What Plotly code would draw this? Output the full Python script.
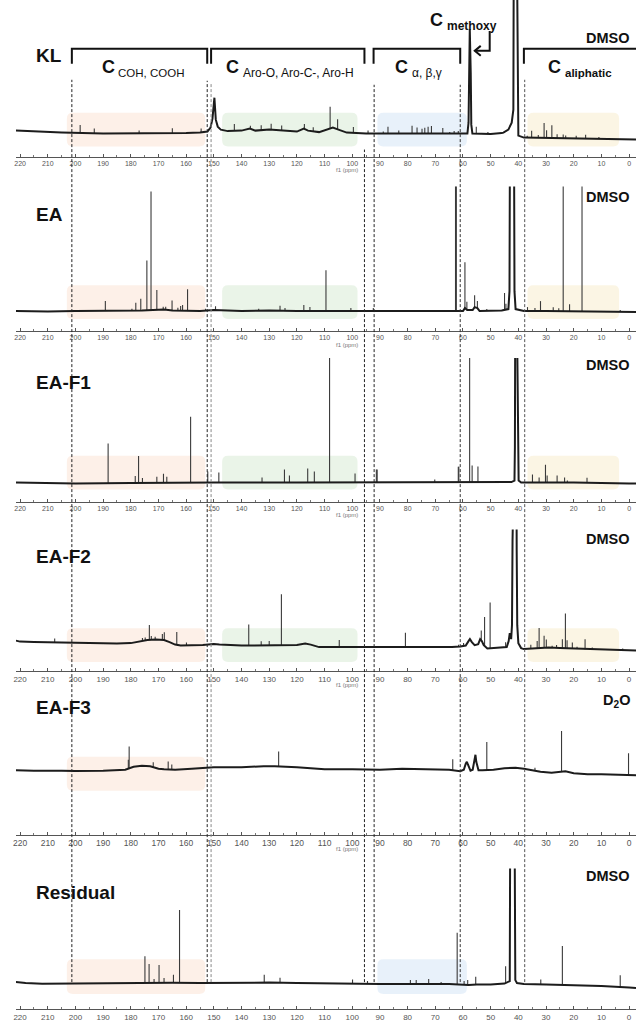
import numpy as np
import plotly.graph_objects as go

W, H = 636, 1022

# ---------------------------------------------------------------- data
# Each spectrum: a continuous outline (ppm, level) plus narrow lines (ppm, height above outline)

KL_line_ppm = [221.5, 215, 205, 190, 175, 160, 155, 152.3, 151.2, 150.5, 149.8, 149.3, 148.6, 147.5, 145, 140, 137, 135,
               130, 125, 120, 117.5, 116, 112, 109, 107, 105, 102, 95, 85, 75, 70, 62, 58.4, 58.0, 57.8, 57.55, 57.2,
               57.0, 56.6, 50, 46, 45.4, 43.6, 42.4, 41.8, 41.6, 40.7, 40.3, 40.0, 38, 30, 20, 10, 0, -2.5]
KL_line_lvl = [2, 1, 0, -1, -1, -0.5, 0, 1, 5, 14, 35, 13, 6, 3, 1.5, 2, 4, 2,
               3, 2, 1, 4, 2, 0.5, 3, 5, 3, 0, -1, -1, -1, -1.5, -1.5, -1, 10, 60, 104, 60,
               8, -1, -1.5, -0.5, 0, 3, 10, 23, 250, 250, 20, -3, -5, -5.5, -6, -6.5, -7, -7]
KL_stick_ppm = [198.3, 193.2, 177.0, 165.0, 154.6, 142.6, 136.8, 132.9, 129.3, 125.5, 117.3, 114.1, 108.0, 105.3,
                99.6, 94.3, 88.8, 87.1, 83.2, 78.4, 76.6, 74.8, 73.8, 72.6, 71.4, 67.3, 64.8, 63.2, 61.7, 55.2,
                51.0, 36.8, 35.2, 32.8, 30.7, 29.8, 27.9, 26.0, 23.8, 22.9, 19.1, 15.7, 10.9]
KL_stick_h = [8, 5, 3, 5, 4, 7, 3, 5, 6, 5, 5, 4, 22, 10,
              6, 3, 2, 7, 3, 8, 6, 5, 6, 7, 8, 6, 2, 3, 3, 7,
              2, 2, 7, 3, 15, 8, 13, 4, 4, 3, 3, 4, 2]

EA_line_ppm = [221.5, 210, 200, 185, 176, 172, 168, 165, 160, 155, 150, 140, 130, 120, 100, 90, 70, 60, 59.3,
               58.5, 56.5, 55.8, 54.8, 54.0, 46, 43.6, 43.2, 42.9, 41.7, 41.4, 41.0, 38, 30, 10, 0, -2.5]
EA_line_lvl = [0, -0.5, 0, 0, 0.5, 1, 1.5, 0.5, 0, 0, 1, 0, 0.5, 0, 0, 0, 0, 0, 3,
               1, 1, 4, 3, 0, 0.5, 2, 20, 300, 300, 20, 2, 0, 0, -0.5, -1, -1]
EA_stick_ppm = [189.2, 179.6, 178.2, 176.4, 174.2, 172.7, 170.6, 168.3, 167.4, 165.1, 163.0, 162.0, 161.3, 159.5,
                153.0, 149.4, 133.8, 126.1, 124.3, 117.5, 115.3, 109.5, 100.5, 92.4, 62.7, 62.4, 59.3, 58.6,
                55.8, 54.8, 51.4, 45.0, 44.5, 36.7, 34.0, 32.0, 27.4, 25.4, 23.8, 21.5, 17.0, 3.2]
EA_stick_h = [10, 2, 8, 12, 50, 119, 20, 3, 3, 10, 3, 5, 6, 22,
              2, 4, 2, 5, 3, 6, 4, 41, 3, 3, 300, 300, 46, 8,
              12, 7, 2, 17, 6, 4, 3, 10, 4, 3, 300, 7, 300, 2]

F1_line_ppm = [221.5, 200, 180, 160, 150, 120, 100, 60, 42.5, 41.4, 41.25, 41.0, 40.3, 40.1, 39.9, 39, 20, 0, -2.5]
F1_line_lvl = [0, -1, -0.5, 0, 0, 0, 0, 0, 0.5, 2, 36, 300, 300, 60, 2, 0, 0, -1, -1]
F1_stick_ppm = [188.2, 178.4, 177.2, 175.8, 170.6, 168.2, 167.0, 158.4, 152.2, 148.2, 132.6, 124.5, 122.7, 116.1,
                113.7, 108.2, 99.0, 91.3, 91.0, 70.2, 61.7, 61.5, 57.6, 56.7, 54.6, 34.9, 32.5, 30.2, 29.6, 26.0,
                23.3, 22.3, 15.2]
F1_stick_h = [40, 7, 27, 5, 6, 9, 6, 66, 11, 10, 5, 13, 7, 14,
              11, 300, 9, 13, 13, 3, 16, 16, 300, 17, 16, 8, 5, 18, 7, 7,
              5, 2, 5]

F2_line_ppm = [221.5, 220, 215, 205, 195, 185, 180, 177, 174, 171, 168, 166, 164, 162, 158, 154, 150, 148, 140,
               130, 120, 117, 115, 112, 100, 90, 80, 70, 64, 61, 59, 58, 57.5, 56.8, 55.8, 54.5, 53.8, 53.2,
               52.5, 51.2, 48, 45, 44.2, 43.5, 43.1, 42.6, 42.3, 42.1, 41.9, 40.8, 40.6, 40.4, 40.0, 39.0, 38,
               35, 31.5, 29, 25, 20, 10, 4, 0, -2.5]
F2_line_lvl = [4.5, 3.5, 3, 2.5, 2, 1.5, 2, 3.5, 5, 5.5, 5, 3, 0.5, -0.5, -0.3, 0, 1, 0.5, -0.5,
               0, 0, 1.5, 0.5, -2, -2, -2.3, -2.7, -2.5, -2, -1.5, -0.5, 4, 6, 3, 0, 1, 6, 4,
               0, -3.5, -3, -2.5, -2, 4, 12, 6, 20, 105, 300, 300, 95, 20, 2, -3, -4,
               -3.5, -2.5, -2.5, -3, -3.5, -5, -5.3, -5.5, -5.5]
F2_stick_ppm = [207.5, 175.8, 174.8, 173.3, 172.6, 171.2, 168.6, 167.9, 163.4, 159.9, 137.4, 132.9, 130.0, 125.6,
                104.7, 80.8, 61.6, 59.8, 53.4, 52.2, 50.2, 44.6, 35.5, 33.2, 32.5, 30.7, 29.9, 27.8, 26.2,
                24.1, 23.0, 22.4, 20.5, 18.8, 15.9, 13.3, 2.3]
F2_stick_h = [4, 3, 3, 15, 4, 3, 6, 8, 13, 3, 21, 4, 4, 51,
              7, 15, 2, 3, 10, 29, 46, 5, 4, 7, 20, 12, 8, 2, 3,
              9, 35, 8, 6, 2, 10, 2, 2]

F3_line_ppm = [221.5, 215, 205, 200, 190, 185, 182, 179, 176, 173, 170, 168, 164, 158, 154, 150, 145, 140, 132,
               128, 120, 114, 110, 100, 90, 82, 75, 65, 61, 59.7, 59.0, 58.6, 58.2, 57.3, 56.5, 55.9, 55.5,
               55.2, 54.4, 53, 49, 45, 41, 38, 32, 28, 24, 23, 20, 15, 10, 5, 0, -2.5]
F3_line_lvl = [-0.5, -1, -1, -1.3, -1, 0, 0, 3, 4, 3.5, 1, 0.5, 0, 1, 2, 2.5, 2.5, 2.5, 3.5,
               3.5, 2.5, 1.5, 0.5, 0.5, 0, 1, 0.5, 0, -1.5, 0, 6, 8, 5, -1, 0, 8, 15,
               8, -0.5, -0.5, 0, 1.5, 2, 1, -2, -3, -2, -1.5, -3.5, -4.5, -4.5, -5, -5.5, -5.5]
F3_stick_ppm = [180.9, 180.6, 171.9, 166.5, 165.2, 126.6, 63.7, 51.4, 34.0, 24.4, 0.2]
F3_stick_h = [9, 22, 5, 8, 5, 15, 11, 28, 3, 41, 22]

RS_line_ppm = [221.5, 218, 212, 205, 190, 175, 165, 155, 145, 130, 120, 110, 100, 90, 75, 65, 58, 55, 50, 45,
               43.1, 42.8, 41.6, 41.3, 41.1, 40.5, 38, 30, 20, 10, 0, -2.5]
RS_line_lvl = [1, 0, -0.7, -0.5, -0.5, 0, 0.3, 0, 0.3, 0.5, 0, -0.5, -0.5, -1, -1, -1, -2, -1.5, -1.5, -0.5,
               2, 300, 300, 28, 3, 0, -1, -1.5, -2, -3, -4.5, -5]
RS_stick_ppm = [174.9, 173.4, 171.6, 169.8, 168.0, 164.6, 162.4, 131.8, 126.1, 99.9, 94.5, 79.0, 76.9, 72.4,
                67.9, 62.1, 59.6, 58.3, 55.4, 44.6, 31.9, 24.1, 3.2]
RS_stick_h = [27, 19, 4, 18, 5, 8, 73, 8, 5, 4, 3, 4, 4, 5,
              2, 52, 4, 5, 8, 17, 5, 39, 12]

panel_names = ["KL", "EA", "EA-F1", "EA-F2", "EA-F3", "Residual"]
solvents = ["DMSO", "DMSO", "DMSO", "DMSO", "D<sub>2</sub>O", "DMSO"]

spectra = [
    (KL_line_ppm, KL_line_lvl, KL_stick_ppm, KL_stick_h),
    (EA_line_ppm, EA_line_lvl, EA_stick_ppm, EA_stick_h),
    (F1_line_ppm, F1_line_lvl, F1_stick_ppm, F1_stick_h),
    (F2_line_ppm, F2_line_lvl, F2_stick_ppm, F2_stick_h),
    (F3_line_ppm, F3_line_lvl, F3_stick_ppm, F3_stick_h),
    (RS_line_ppm, RS_line_lvl, RS_stick_ppm, RS_stick_h),
]

# region shading (ppm spans) and which panels show them
regions = {
    "carbonyl":  (203.1, 153.1, "rgba(250,214,190,0.36)"),
    "aromatic":  (147.0, 98.1, "rgba(200,225,195,0.38)"),
    "side":      (90.9, 58.6, "rgba(200,222,242,0.42)"),
    "aliphatic": (36.7, 3.6, "rgba(245,232,190,0.42)"),
}
panel_regions = [
    ["carbonyl", "aromatic", "side", "aliphatic"],
    ["carbonyl", "aromatic", "aliphatic"],
    ["carbonyl", "aromatic", "aliphatic"],
    ["carbonyl", "aromatic", "aliphatic"],
    ["carbonyl"],
    ["carbonyl", "side"],
]

# ---------------------------------------------------------------- layout geometry (pixels)
X_RANGE = [221.5, -2.5]
X_LEFT = 13


def ppm_px(p):
    return X_LEFT + (X_RANGE[0] - p) / (X_RANGE[0] - X_RANGE[1]) * (W - X_LEFT)


def fx(px):
    return px / W


def fy(py):
    return 1 - py / H


# per panel: axis line, baseline, clip top, label centre, solvent centre, tick font, box offsets
geom = [
    dict(axis=157, base=133, top=0, lab=56, sol=38.5, tf=7, box=(-14, 20)),
    dict(axis=332, base=312, top=187, lab=215.5, sol=198, tf=7, box=(-8, 26)),
    dict(axis=503, base=484, top=359, lab=383.5, sol=366, tf=7, box=(-7, 27)),
    dict(axis=673, base=647, top=531, lab=558, sol=540.5, tf=8, box=(-17, 17)),
    dict(axis=837, base=772, top=690, lab=710, sol=703.5, tf=8.5, box=(-21, 13)),
    dict(axis=1012, base=986, top=871, lab=895.5, sol=878.5, tf=8, box=(-11, 24)),
]

fig = go.Figure()
shapes = []
annotations = []
FONT = "Liberation Sans, Arial, sans-serif"

for i, (name, (lp, ll, sp, sh), g) in enumerate(zip(panel_names, spectra, geom)):
    k = "" if i == 0 else str(i + 1)
    lp_arr = np.array(lp, dtype=float)
    ll_arr = np.array(ll, dtype=float)
    # narrow lines stand on the outline beneath them
    sx, sy = [], []
    for p, h in zip(sp, sh):
        foot = float(np.interp(p, lp_arr[::-1], ll_arr[::-1]))
        sx += [p, p, None]
        sy += [foot, foot + h, None]
    fig.add_trace(go.Scatter(x=sx, y=sy, mode="lines", xaxis="x" + k, yaxis="y" + k,
                             line=dict(color="#3a3a3a", width=1.1), hoverinfo="skip", showlegend=False))
    fig.add_trace(go.Scatter(x=lp, y=ll, mode="lines", xaxis="x" + k, yaxis="y" + k,
                             line=dict(color="#1c1c1c", width=2), hoverinfo="skip", showlegend=False))

    ytop = 1.0 if g["top"] <= 0 else fy(g["top"])
    fig.update_layout({
        "xaxis" + k: dict(domain=[fx(X_LEFT), 1], range=X_RANGE, anchor="y" + k,
                          showline=True, linecolor="#555", linewidth=1, showgrid=False, zeroline=False,
                          ticks="inside", ticklen=3, tickcolor="#555", tickwidth=1,
                          tick0=0, dtick=10, tickfont=dict(size=g["tf"], color="#555", family=FONT),
                          minor=dict(dtick=5, ticks="inside", ticklen=2, tickcolor="#777"),
                          fixedrange=True),
        "yaxis" + k: dict(domain=[fy(g["axis"]), ytop],
                          range=[-(g["axis"] - g["base"]), g["base"] - max(g["top"], 0)],
                          visible=False, fixedrange=True),
    })

    # shaded regions with rounded corners
    for key in panel_regions[i]:
        p0, p1, col = regions[key]
        x0, x1 = ppm_px(p0), ppm_px(p1)
        y0, y1 = g["base"] - g["box"][1], g["base"] - g["box"][0]
        r = 6
        path = (f"M {fx(x0 + r)},{fy(y0)} L {fx(x1 - r)},{fy(y0)} Q {fx(x1)},{fy(y0)} {fx(x1)},{fy(y0 + r)} "
                f"L {fx(x1)},{fy(y1 - r)} Q {fx(x1)},{fy(y1)} {fx(x1 - r)},{fy(y1)} "
                f"L {fx(x0 + r)},{fy(y1)} Q {fx(x0)},{fy(y1)} {fx(x0)},{fy(y1 - r)} "
                f"L {fx(x0)},{fy(y0 + r)} Q {fx(x0)},{fy(y0)} {fx(x0 + r)},{fy(y0)} Z")
        shapes.append(dict(type="path", path=path, xref="paper", yref="paper",
                           fillcolor=col, line=dict(width=0), layer="below"))

    annotations.append(dict(text=f"<b>{name}</b>", x=fx(31), y=fy(g["lab"]), xref="paper", yref="paper",
                            xanchor="left", yanchor="middle", showarrow=False,
                            font=dict(size=19, color="#111", family=FONT)))
    annotations.append(dict(text=f"<b>{solvents[i]}</b>", x=fx(632), y=fy(g["sol"]), xref="paper", yref="paper",
                            xanchor="right", yanchor="middle", showarrow=False,
                            font=dict(size=14.5, color="#111", family=FONT)))
    # axis caption under the 100 ppm tick (the bottom axis has no room for it)
    if g["axis"] + 16 < H:
        annotations.append(dict(text="f1 (ppm)", x=fx(346), y=fy(g["axis"] + 14), xref="paper", yref="paper",
                                xanchor="center", yanchor="middle", showarrow=False,
                                font=dict(size=6, color="#777", family=FONT)))

# region boundaries (dashed)
dash_lines = [(201.3, 80, "#222"), (152.4, 81, "#222"), (151.0, 83, "#888"), (95.6, 150, "#222"),
              (92.1, 85, "#222"), (61.0, 85, "#333"), (37.7, 80, "#555")]
for p, ytop, col in dash_lines:
    shapes.append(dict(type="line", xref="x", yref="paper", x0=p, x1=p, y0=fy(985), y1=fy(ytop),
                       line=dict(color=col, width=1, dash="3px,2px"), layer="above"))

# brackets over the chemical-shift regions
brackets = [(201.3, 152.4, True), (151.0, 95.6, True), (92.3, 61.0, True), (38.0, -3.0, False)]
for p0, p1, right_end in brackets:
    x0, x1 = ppm_px(p0), min(ppm_px(p1), W + 2)
    pts = [(x0, 64), (x0, 49), (x1, 49)] + ([(x1, 64)] if right_end else [])
    path = "M " + " L ".join(f"{fx(a)},{fy(b)}" for a, b in pts)
    shapes.append(dict(type="path", path=path, xref="paper", yref="paper",
                       line=dict(color="#111", width=2)))

# methoxy pointer
shapes.append(dict(type="path", xref="paper", yref="paper",
                   path=f"M {fx(489)},{fy(31)} L {fx(489)},{fy(51)} L {fx(474)},{fy(51)}",
                   line=dict(color="#111", width=2)))
shapes.append(dict(type="path", xref="paper", yref="paper",
                   path=f"M {fx(480)},{fy(46)} L {fx(474)},{fy(51)} L {fx(480)},{fy(56)}",
                   line=dict(color="#111", width=2)))

# region titles
titles = [(98, "COH, COOH", 11.5, False), (223, "Aro-O, Aro-C-, Aro-H", 12, False),
          (393, "α, β,γ", 12, False), (547, "aliphatic", 11.5, True)]
for cx, sub, sz, bold in titles:
    annotations.append(dict(text="<b>C</b>", x=fx(cx - 1), y=fy(67.5), xref="paper", yref="paper",
                            xanchor="left", yanchor="middle", showarrow=False,
                            font=dict(size=18, color="#111", family=FONT)))
    annotations.append(dict(text=(f"<b>{sub}</b>" if bold else sub), x=fx(cx + 16), y=fy(73),
                            xref="paper", yref="paper", xanchor="left", yanchor="middle", showarrow=False,
                            font=dict(size=sz, color="#111", family=FONT)))
annotations.append(dict(text="<b>C</b>", x=fx(427), y=fy(20.5), xref="paper", yref="paper",
                        xanchor="left", yanchor="middle", showarrow=False,
                        font=dict(size=18, color="#111", family=FONT)))
annotations.append(dict(text="<b>methoxy</b>", x=fx(444), y=fy(26), xref="paper", yref="paper",
                        xanchor="left", yanchor="middle", showarrow=False,
                        font=dict(size=12, color="#111", family=FONT)))

fig.update_layout(width=W, height=H, margin=dict(l=0, r=0, t=0, b=0),
                  paper_bgcolor="white", plot_bgcolor="rgba(0,0,0,0)",
                  shapes=shapes, annotations=annotations, showlegend=False)

fig.write_html("out.html", config={"displayModeBar": False})
